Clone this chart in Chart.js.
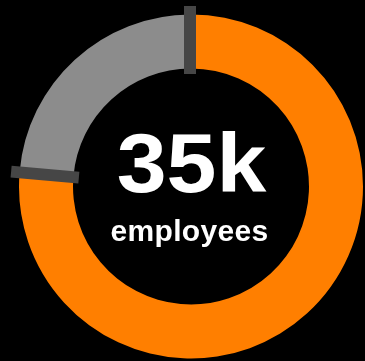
<!DOCTYPE html>
<html>
<head>
<meta charset="utf-8">
<script src="https://cdn.jsdelivr.net/npm/chart.js@4/dist/chart.umd.min.js"></script>
<style>
  html, body { margin: 0; padding: 0; background: #000; }
  #wrap { width: 365px; height: 361px; }
</style>
</head>
<body>
<div id="wrap"><canvas id="c" width="365" height="361"></canvas></div>
<script>
// Share of the workforce: main segment and remainder
const segmentLabels = ['Orange', 'Other'];
const segmentValues = [76.4, 23.6];
const segmentColors = ['#FF7F00', '#8C8C8C'];
const headline = '35k';
const caption = 'employees';

// Dark bars laid across the ring at each segment boundary
const separatorPlugin = {
  id: 'separators',
  afterDatasetsDraw(chart) {
    const ctx = chart.ctx;
    const arcs = chart.getDatasetMeta(0).data;
    ctx.save();
    ctx.fillStyle = '#464646';
    arcs.forEach(arc => {
      const { x, y, startAngle, innerRadius, outerRadius } = arc.getProps(
        ['x', 'y', 'startAngle', 'innerRadius', 'outerRadius'], true);
      const r0 = innerRadius - 5.5;
      const r1 = outerRadius + 8.5;
      ctx.save();
      ctx.translate(x, y);
      ctx.rotate(startAngle);
      ctx.fillRect(r0, -7, r1 - r0, 12);
      ctx.restore();
    });
    ctx.restore();
  }
};

// Big figure and caption in the hole of the ring
const centerTextPlugin = {
  id: 'centerText',
  afterDraw(chart) {
    const ctx = chart.ctx;
    const arc = chart.getDatasetMeta(0).data[0];
    const cx = arc.x, cy = arc.y;
    ctx.save();
    ctx.fillStyle = '#FFFFFF';
    ctx.textAlign = 'center';
    ctx.textBaseline = 'alphabetic';
    // headline set slightly wide, like a display face
    ctx.save();
    ctx.translate(cx + 0.5, cy + 5.5);
    ctx.scale(1.08, 1);
    ctx.font = 'bold 83px "Liberation Sans", Arial, sans-serif';
    ctx.fillText(headline, 0, 0);
    ctx.restore();
    ctx.font = 'bold 30px "Liberation Sans", Arial, sans-serif';
    ctx.letterSpacing = '0.3px';
    ctx.fillText(caption, cx - 1.5, cy + 54);
    ctx.restore();
  }
};

new Chart(document.getElementById('c'), {
  type: 'doughnut',
  data: {
    labels: segmentLabels,
    datasets: [{
      data: segmentValues,
      backgroundColor: segmentColors,
      borderWidth: 0,
      hoverOffset: 0,
      offset: 0
    }]
  },
  options: {
    responsive: false,
    animation: false,
    cutout: '68.6%',
    layout: { padding: { left: 19, right: 2, top: 14, bottom: 2 } },
    plugins: {
      legend: { display: false },
      tooltip: { enabled: false }
    },
    events: []
  },
  plugins: [separatorPlugin, centerTextPlugin]
});
</script>
</body>
</html>
